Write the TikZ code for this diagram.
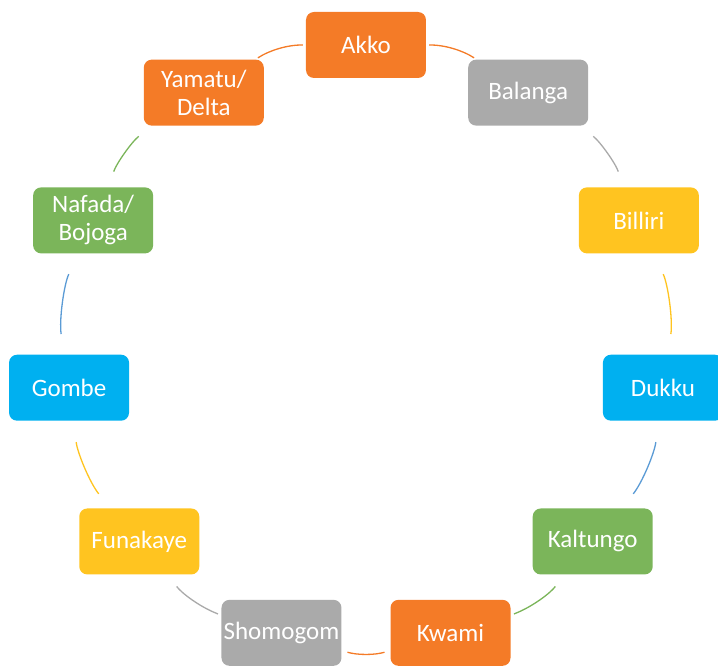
\documentclass[tikz,border=0pt]{standalone}
\usepackage{fontspec}
\setmainfont{Carlito}
\usetikzlibrary{positioning}
\definecolor{lga-orange}{HTML}{F47B27}
\definecolor{lga-gray}{HTML}{AAAAAA}
\definecolor{lga-yellow}{HTML}{FFC420}
\definecolor{lga-blue}{HTML}{00B0F0}
\definecolor{lga-green}{HTML}{7BB55A}
\definecolor{link-blue}{HTML}{5B9BD5}
\tikzset{
  lga/.style={fill=#1, rounded corners=8pt, minimum width=120pt, minimum height=66pt,
    inner sep=0pt, text=white, align=center, font=\fontsize{25}{28}\selectfont},
  link/.style={draw=#1, line width=1.3pt, bend left=16.4, looseness=0.87},
}

\begin{document}
\begin{tikzpicture}
\useasboundingbox (-366pt,-322pt) rectangle (352pt,345pt);
% ring of areas, clockwise from the top
\node[lga=lga-orange] (akko)     at ({90-0*360/11}:300pt)  {Akko};
\node[lga=lga-gray]   (balanga)  at ({90-1*360/11}:300pt)  {Balanga};
\node[lga=lga-yellow] (billiri)  at ({90-2*360/11}:300pt)  {Billiri};
\node[lga=lga-blue]   (dukku)    at ({90-3*360/11}:300pt)  {Dukku};
\node[lga=lga-green]  (kaltungo) at ({90-4*360/11}:300pt)  {Kaltungo};
\node[lga=lga-orange] (kwami)    at ({90-5*360/11}:300pt)  {Kwami};
\node[lga=lga-gray]   (shomogom) at ({90-6*360/11}:300pt)  {Shomogom};
\node[lga=lga-yellow] (funakaye) at ({90-7*360/11}:300pt)  {Funakaye};
\node[lga=lga-blue]   (gombe)    at ({90-8*360/11}:300pt)  {Gombe};
\node[lga=lga-green]  (nafada)   at ({90-9*360/11}:300pt)  {Nafada/\\Bojoga};
\node[lga=lga-orange] (yamatu)   at ({90-10*360/11}:300pt) {Yamatu/\\Delta};
% arcs between neighbours (gap at each end)
\foreach \src/\dst/\col/\ga/\gb in {akko/balanga/lga-orange/3/3,
    balanga/billiri/lga-gray/17/16.5, billiri/dukku/lga-yellow/22.5/20.7,
    dukku/kaltungo/link-blue/21.3/18.6, kaltungo/kwami/lga-green/14.7/3.5,
    kwami/shomogom/lga-orange/6/6, shomogom/funakaye/lga-gray/3.5/14.7,
    funakaye/gombe/lga-yellow/18.6/21.3, gombe/nafada/link-blue/20.7/22.5,
    nafada/yamatu/lga-green/16.5/17, yamatu/akko/lga-orange/3/3} {
  \draw[link=\col, shorten <=\ga pt, shorten >=\gb pt] (\src) to (\dst);
}
\end{tikzpicture}
\end{document}
